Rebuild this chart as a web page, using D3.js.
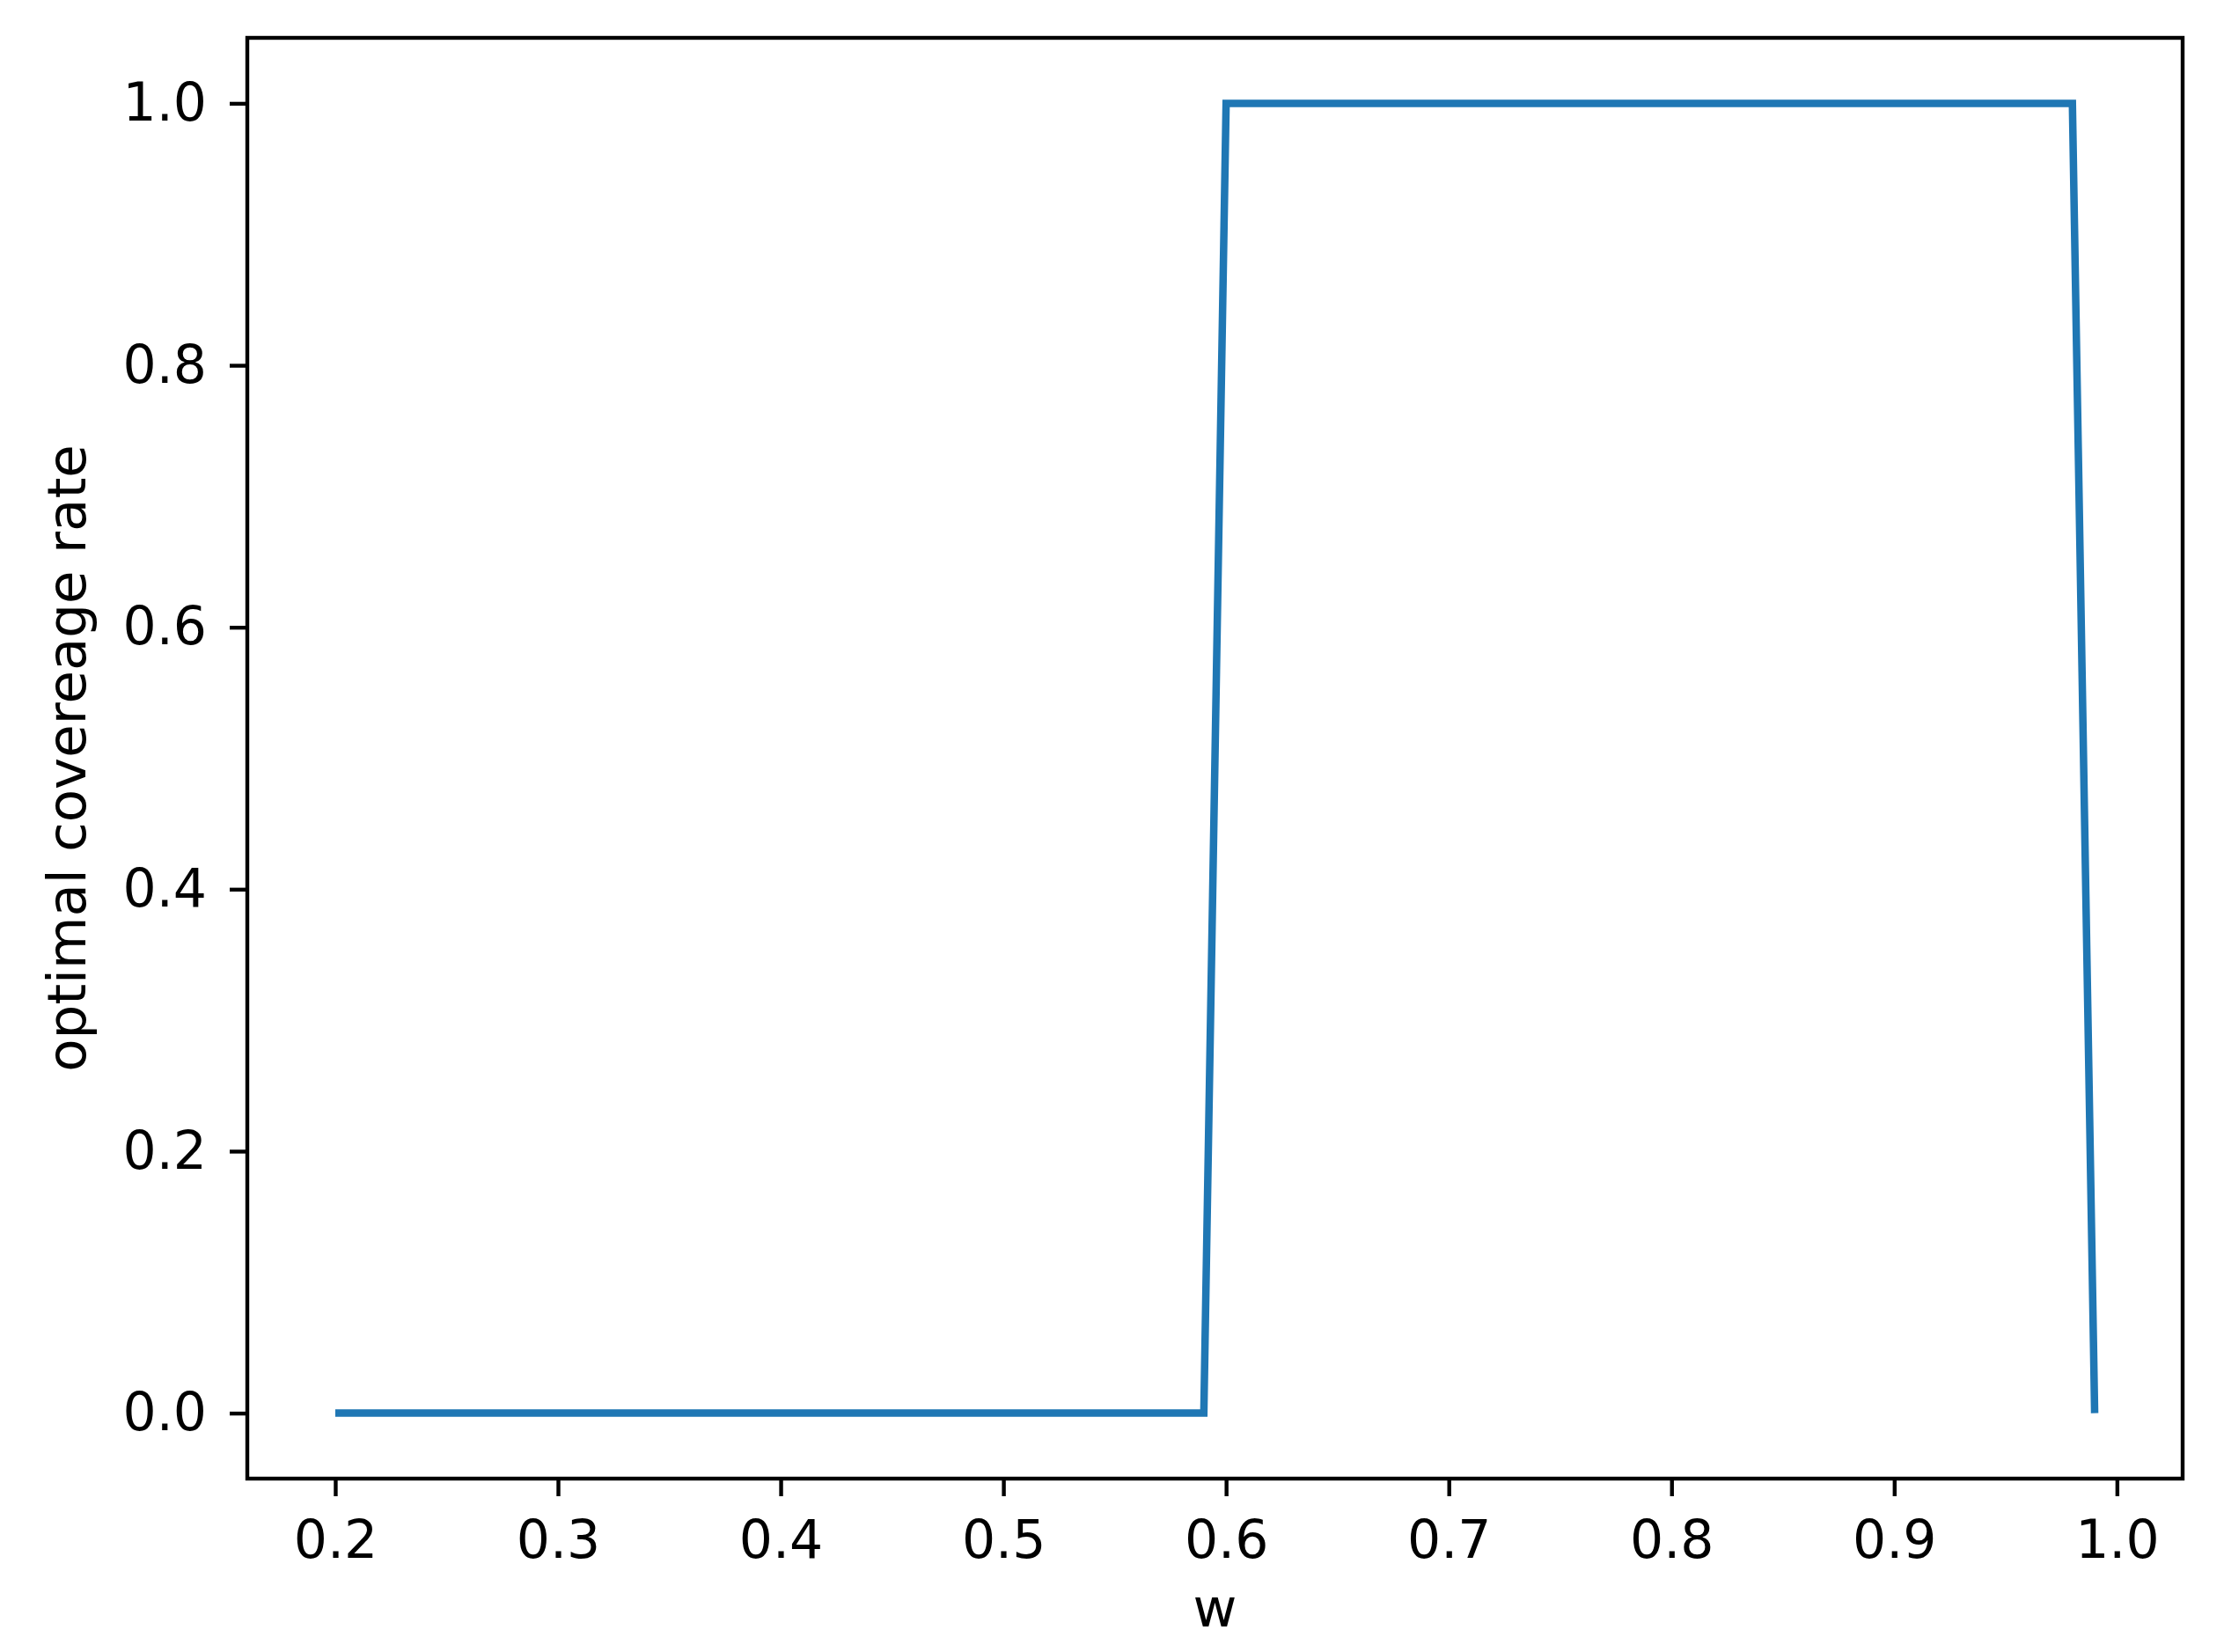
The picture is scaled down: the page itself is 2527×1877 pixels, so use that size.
<!DOCTYPE html>
<html>
<head>
<meta charset="utf-8">
<script src="https://cdn.jsdelivr.net/npm/d3@7"></script>
<style>
  body { margin: 0; background: #fff; }
  text { font-family: "DejaVu Sans", sans-serif; fill: #000; }
</style>
</head>
<body>
<svg id="chart"></svg>
<script>
// data
var wValues = [0.2, 0.59, 0.60, 0.98, 0.99];
var rateValues = [0, 0, 1, 1, 0];
var xTicks = [0.2, 0.3, 0.4, 0.5, 0.6, 0.7, 0.8, 0.9, 1.0];
var yTicks = [0.0, 0.2, 0.4, 0.6, 0.8, 1.0];

var W = 2527, H = 1877;
var margin = { top: 43, right: 47, bottom: 197, left: 281 };
var width = W - margin.left - margin.right,
    height = H - margin.top - margin.bottom;

var svg = d3.select("#chart").attr("width", W).attr("height", H);
var g = svg.append("g").attr("transform", "translate(" + margin.left + "," + margin.top + ")");

var points = wValues.map(function(w, i) { return [w, rateValues[i]]; });

// matplotlib style 5% margins
var xext = d3.extent(wValues), xpad = (xext[1] - xext[0]) * 0.05;
var yext = d3.extent(rateValues), ypad = (yext[1] - yext[0]) * 0.05;

var x = d3.scaleLinear().domain([xext[0] - xpad, xext[1] + xpad]).range([0, width]);
var y = d3.scaleLinear().domain([yext[0] - ypad, yext[1] + ypad]).range([height, 0]);

var fontSize = 60;
var tickLen = 20;

var xAxis = g.append("g").attr("transform", "translate(0," + height + ")")
    .call(d3.axisBottom(x).tickValues(xTicks).tickFormat(d3.format(".1f")).tickSizeInner(tickLen).tickSizeOuter(0).tickPadding(27));
var yAxis = g.append("g")
    .call(d3.axisLeft(y).tickValues(yTicks).tickFormat(d3.format(".1f")).tickSizeInner(tickLen).tickSizeOuter(0).tickPadding(26));

[xAxis, yAxis].forEach(function(a) {
    a.select(".domain").remove();
    a.selectAll(".tick line").attr("stroke", "#000").attr("stroke-width", 4.4);
    a.selectAll(".tick text").style("font-size", fontSize + "px").attr("fill", "#000");
});

// line
var line = d3.line().x(d => x(d[0])).y(d => y(d[1]));
g.append("path")
    .datum(points)
    .attr("d", line)
    .attr("fill", "none")
    .attr("stroke", "#1f77b4")
    .attr("stroke-width", 8.5)
    .attr("stroke-linejoin", "miter")
    .attr("stroke-linecap", "butt");

// frame
g.append("rect")
    .attr("x", 0).attr("y", 0)
    .attr("width", width).attr("height", height)
    .attr("fill", "none")
    .attr("stroke", "#000")
    .attr("stroke-width", 4.4);

// labels
g.append("text")
    .attr("x", width / 2)
    .attr("y", height + 168)
    .attr("text-anchor", "middle")
    .style("font-size", (fontSize + 1) + "px")
    .text("w");

g.append("text")
    .attr("transform", "translate(" + (-184) + "," + (height / 2) + ") rotate(-90)")
    .attr("text-anchor", "middle")
    .style("font-size", (fontSize + 1) + "px")
    .text("optimal covereage rate");
</script>
</body>
</html>
